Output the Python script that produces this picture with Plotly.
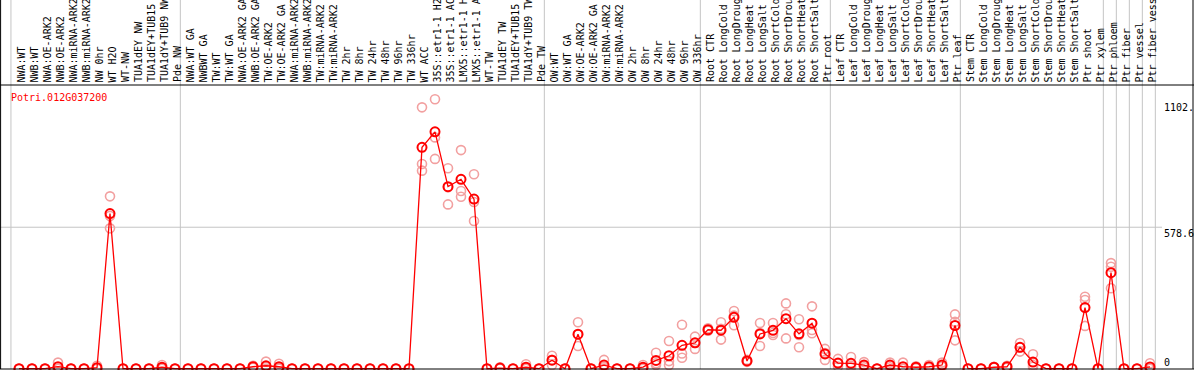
import numpy as np
import plotly.graph_objects as go

gene = "Potri.012G037200"

categories = [
    "NWA:WT", "NWB:WT", "NWA:OE-ARK2", "NWB:OE-ARK2", "NWA:miRNA-ARK2", "NWB:miRNA-ARK2",
    "NW 0hr", "WT H2O", "WT-NW", "TUA1dEY NW", "TUA1dEY+TUB15 NW", "TUA1dY+TUB9 NW", "Pde NW",
    "NWA:WT GA", "NWBWT GA", "TW:WT", "TW:WT GA", "NWA:OE-ARK2 GA", "NWB:OE-ARK2 GA",
    "TW:OE-ARK2", "TW:OE-ARK2 GA", "NWA:miRNA-ARK2 GA", "NWB:miRNA-ARK2 GA", "TW:miRNA-ARK2",
    "TW:miRNA-ARK2 GA", "TW 2hr", "TW 8hr", "TW 24hr", "TW 48hr", "TW 96hr", "TW 336hr",
    "WT ACC", "35S::etr1-1 H2O", "35S::etr1-1 ACC", "LMX5::etr1-1 H2O", "LMX5::etr1-1 ACC",
    "WT-TW", "TUA1dEY TW", "TUA1dEY+TUB15 TW", "TUA1dY+TUB9 TW", "Pde TW",
    "OW:WT", "OW:WT GA", "OW:OE-ARK2", "OW:OE-ARK2 GA", "OW:miRNA-ARK2", "OW:miRNA-ARK2 GA",
    "OW 2hr", "OW 8hr", "OW 24hr", "OW 48hr", "OW 96hr", "OW 336hr",
    "Root CTR", "Root LongCold", "Root LongDrought", "Root LongHeat", "Root LongSalt",
    "Root ShortCold", "Root ShortDrought", "Root ShortHeat", "Root ShortSalt", "Ptr root",
    "Leaf CTR", "Leaf LongCold", "Leaf LongDrought", "Leaf LongHeat", "Leaf LongSalt",
    "Leaf ShortCold", "Leaf ShortDrought", "Leaf ShortHeat", "Leaf ShortSalt", "Ptr leaf",
    "Stem CTR", "Stem LongCold", "Stem LongDrought", "Stem LongHeat", "Stem LongSalt",
    "Stem ShortCold", "Stem ShortDrought", "Stem ShortHeat", "Stem ShortSalt", "Ptr shoot",
    "Ptr xylem", "Ptr phloem", "Ptr fiber", "Ptr vessel", "Ptr fiber vessel",
]

rep1 = [0, 0, 0, 25, 0, 0, 12, 705, 0, 0, 0, 15, 0,
        0, 0, 0, 0, 0, 12, 29, 20, 0, 0, 0, 0, 0, 0, 0, 0, 0, 0,
        1069, 1102, 820, 894, 795, 0, 6, 0, 18, 0,
        53, 0, 190, 0, 36, 0, 0, 15, 65, 113, 180, 131,
        165, 190, 236, 36, 187, 187, 267, 202, 255, 81,
        40, 48, 27, 0, 25, 25, 10, 15, 25, 222,
        0, 0, 8, 12, 105, 59, 0, 0, 0, 294,
        0, 432, 0, 0, 22]
rep2 = [0, 0, 0, 0, 0, 0, 0, 574, 0, 0, 0, 3, 0,
        0, 0, 0, 0, 0, 8, 7, 4, 0, 0, 0, 0, 0, 0, 0, 0, 0, 0,
        837, 946, 672, 727, 682, 0, 2, 0, 0, 0,
        15, 0, 93, 0, 8, 0, 0, 4, 15, 15, 62, 81,
        155, 119, 178, 28, 93, 138, 223, 88, 158, 36,
        20, 12, 12, 0, 14, 0, 6, 6, 12, 192,
        0, 0, 6, 8, 70, 15, 0, 0, 0, 281,
        0, 417, 0, 0, 0]
rep3 = [0, 0, 0, 0, 0, 0, 0, 625, 0, 0, 0, 0, 0,
        0, 0, 0, 0, 0, 4, 0, 0, 0, 0, 0, 0, 0, 0, 0, 0, 0, 0,
        810, 858, 742, 703, 604, 0, 0, 0, 0, 0,
        36, 0, 140, 0, 0, 0, 0, 0, 22, 31, 45, 105,
        158, 163, 217, 31, 146, 146, 124, 138, 145, 64,
        9, 6, 6, 0, 6, 0, 2, 3, 8, 116,
        0, 0, 4, 4, 87, 8, 0, 0, 0, 175,
        0, 329, 0, 0, 0]

# last category index of each group (separator drawn just after it)
group_ends = [12, 40, 52, 62, 72, 83, 84, 85, 86, 87]

ytick_vals = [1102, 578.6, 0]
ytick_text = ["1102.", "578.6", "0"]

W, H = 1194, 370
FONT = "DejaVu Sans Mono"

reps = np.array([rep1, rep2, rep3], dtype=float)
means = reps.mean(axis=0)
xs = np.arange(len(categories))

# pixel mapping: category i at x=19+13*i ; value 0 at y=368.7, 0.2445 px per unit
x0 = -19 / 13
x1 = x0 + W / 13
y_lo = -(H - 368.7) / 0.2445
y_hi = 368.7 / 0.2445

def py(pix):
    return 1 - pix / H

fig = go.Figure()

for r in reps:
    fig.add_trace(go.Scatter(
        x=xs, y=r, mode="markers",
        marker=dict(symbol="circle-open", size=9, color="#F2A0A0", line=dict(width=1.6, color="#F2A0A0")),
        hoverinfo="skip",
    ))

fig.add_trace(go.Scatter(
    x=xs, y=means, mode="lines+markers",
    line=dict(color="#FF0000", width=1.3),
    marker=dict(symbol="circle-open", size=9, color="#FF0000", line=dict(width=2, color="#FF0000")),
))

shapes = []
sep_pos = [-0.62] + [g + 0.41 for g in group_ends]
for s in sep_pos:
    shapes.append(dict(type="line", xref="x", yref="paper", x0=s, x1=s, y0=py(369), y1=1,
                       line=dict(color="#C4C4C4", width=1), layer="below"))
# horizontal mid gridline
shapes.append(dict(type="line", xref="paper", yref="y", x0=0, x1=1162 / W, y0=578.6, y1=578.6,
                   line=dict(color="#C4C4C4", width=1), layer="below"))
# borders
shapes.append(dict(type="line", xref="paper", yref="paper", x0=0, x1=1, y0=py(85), y1=py(85),
                   line=dict(color="black", width=1)))
shapes.append(dict(type="line", xref="paper", yref="paper", x0=0, x1=1, y0=py(369), y1=py(369),
                   line=dict(color="black", width=1)))
shapes.append(dict(type="line", xref="paper", yref="paper", x0=0.6 / W, x1=0.6 / W, y0=py(369), y1=1,
                   line=dict(color="black", width=1)))
shapes.append(dict(type="line", xref="paper", yref="paper", x0=1193 / W, x1=1193 / W, y0=py(369), y1=1,
                   line=dict(color="black", width=1)))

annotations = []
for i, c in enumerate(categories):
    annotations.append(dict(x=i, xref="x", y=py(84.5), yref="paper", text=c, textangle=-90,
                            xanchor="center", yanchor="bottom", showarrow=False, xshift=2,
                            font=dict(family=FONT, size=10, color="black")))

annotations.append(dict(x=9 / W, xref="paper", y=py(97), yref="paper", text=gene,
                        xanchor="left", yanchor="middle", showarrow=False,
                        font=dict(family=FONT, size=10, color="#FF0000")))

for v, t in zip(ytick_vals, ytick_text):
    annotations.append(dict(x=1162 / W, xref="paper", y=v, yref="y", text=t,
                            xanchor="left", yanchor="bottom" if v == 0 else "top",
                            yshift=-1 if v == 0 else (-1 if v > 1000 else 1),
                            showarrow=False, font=dict(family=FONT, size=10, color="black")))

fig.update_layout(
    width=W, height=H, margin=dict(l=0, r=0, t=0, b=0),
    paper_bgcolor="white", plot_bgcolor="white", showlegend=False,
    xaxis=dict(range=[x0, x1], visible=False, fixedrange=True),
    yaxis=dict(range=[y_lo, y_hi], visible=False, fixedrange=True),
    shapes=shapes, annotations=annotations,
)

fig.write_html(
    "out.html",
    config={"displayModeBar": False},
    post_script="document.body.style.margin='0';document.body.style.overflow='hidden';",
)
